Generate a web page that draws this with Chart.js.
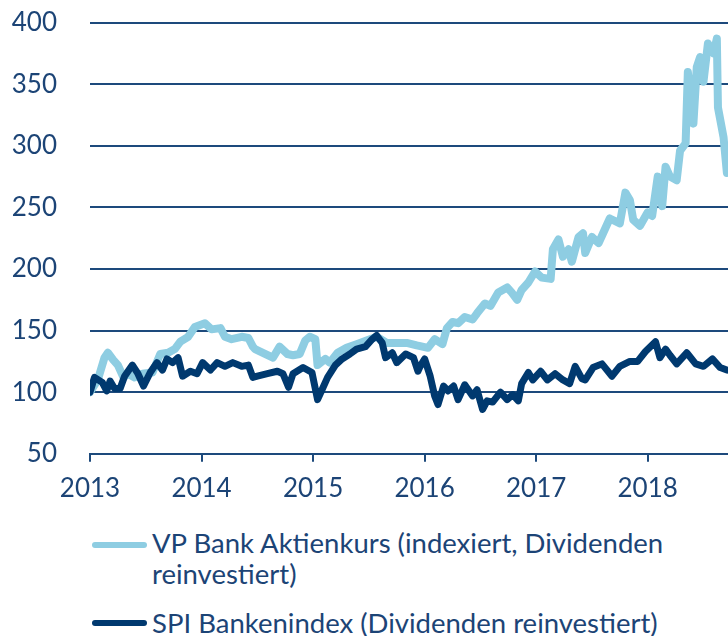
<!DOCTYPE html>
<html>
<head>
<meta charset="utf-8">
<script src="https://cdn.jsdelivr.net/npm/chart.js@4.4.1/dist/chart.umd.min.js"></script>
<style>
  body { margin: 0; background: #fff; font-family: Lato, "Open Sans", sans-serif; }
  #wrap { position: relative; width: 728px; height: 636px; overflow: hidden; }
  #chart { position: absolute; left: 0; top: -26px; }
  .legend-item { position: absolute; left: 152px; width: 570px; font-size: 27.5px; line-height: 31px; color: #1c4476; }
  .swatch { position: absolute; left: 92px; width: 55px; height: 6px; border-radius: 3px; }
</style>
</head>
<body>
<div id="wrap">
  <canvas id="chart" width="728" height="543"></canvas>
  <div class="swatch" style="top:542px; background:#8ecde2;"></div>
  <div class="legend-item" style="top:527px;">VP Bank Aktienkurs (indexiert, Dividenden reinvestiert)</div>
  <div class="swatch" style="top:620px; background:#00396f;"></div>
  <div class="legend-item" style="top:607px;">SPI Bankenindex (Dividenden reinvestiert)</div>
</div>
<script>
// VP Bank share price, indexed (decimal year / value)
const vpTime = [
  2013.00, 2013.07, 2013.13, 2013.16, 2013.21, 2013.25, 2013.30, 2013.34, 2013.40, 2013.47,
  2013.56, 2013.63, 2013.70, 2013.76, 2013.81, 2013.88, 2013.94, 2014.03, 2014.09, 2014.17,
  2014.21, 2014.27, 2014.36, 2014.42, 2014.46, 2014.48, 2014.55, 2014.64, 2014.70, 2014.77,
  2014.82, 2014.88, 2014.93, 2014.97, 2015.02, 2015.04, 2015.11, 2015.15, 2015.22, 2015.30,
  2015.39, 2015.48, 2015.57, 2015.66, 2015.75, 2015.84, 2015.93, 2015.98, 2016.03, 2016.09,
  2016.16, 2016.20, 2016.25, 2016.30, 2016.36, 2016.43, 2016.47, 2016.54, 2016.59, 2016.66,
  2016.74, 2016.78, 2016.83, 2016.87, 2016.93, 2016.99, 2017.05, 2017.13, 2017.15, 2017.20,
  2017.24, 2017.29, 2017.32, 2017.38, 2017.42, 2017.44, 2017.50, 2017.56, 2017.60, 2017.66,
  2017.75, 2017.80, 2017.84, 2017.87, 2017.93, 2018.00, 2018.04, 2018.09, 2018.13, 2018.16,
  2018.20, 2018.26, 2018.29, 2018.34, 2018.36, 2018.41, 2018.44, 2018.47, 2018.50, 2018.54,
  2018.59, 2018.62, 2018.63, 2018.68, 2018.71
];
const vpValues = [
  100, 110, 128, 132, 126, 122, 112, 115, 112, 115,
  116, 131, 132, 135, 141, 145, 153, 156, 151, 152,
  145, 143, 145, 144, 137, 135, 132, 128, 137, 131,
  130, 131, 142, 145, 143, 122, 127, 124, 132, 136,
  139, 142, 145, 140, 140, 140, 138, 137, 136, 143,
  139, 152, 157, 156, 161, 159, 164, 172, 170, 181,
  185, 181, 175, 183, 189, 198, 193, 192, 216, 224,
  210, 216, 206, 226, 229, 213, 226, 221, 229, 241,
  237, 262, 256, 240, 235, 246, 243, 275, 251, 283,
  275, 272, 296, 302, 360, 318, 364, 372, 352, 383,
  375, 387, 331, 307, 278
];

// SPI Bankenindex (decimal year / value)
const spiTime = [
  2013.00, 2013.04, 2013.11, 2013.15, 2013.18, 2013.22, 2013.27, 2013.31, 2013.38, 2013.43,
  2013.48, 2013.54, 2013.60, 2013.65, 2013.69, 2013.74, 2013.79, 2013.83, 2013.90, 2013.96,
  2014.01, 2014.08, 2014.14, 2014.21, 2014.28, 2014.36, 2014.42, 2014.46, 2014.50, 2014.59,
  2014.68, 2014.73, 2014.78, 2014.82, 2014.91, 2014.99, 2015.04, 2015.08, 2015.13, 2015.20,
  2015.26, 2015.33, 2015.39, 2015.47, 2015.53, 2015.57, 2015.62, 2015.65, 2015.71, 2015.75,
  2015.83, 2015.90, 2015.94, 2015.96, 2016.00, 2016.05, 2016.09, 2016.12, 2016.17, 2016.21,
  2016.26, 2016.30, 2016.36, 2016.43, 2016.47, 2016.52, 2016.56, 2016.61, 2016.68, 2016.74,
  2016.79, 2016.84, 2016.87, 2016.93, 2016.97, 2017.04, 2017.10, 2017.17, 2017.24, 2017.30,
  2017.35, 2017.41, 2017.44, 2017.51, 2017.59, 2017.68, 2017.75, 2017.84, 2017.91, 2017.98,
  2018.07, 2018.11, 2018.16, 2018.20, 2018.26, 2018.35, 2018.43, 2018.50, 2018.58, 2018.65,
  2018.71
];
const spiValues = [
  100, 112, 108, 101, 109, 103, 103, 113, 122, 115,
  105, 116, 124, 118, 127, 124, 128, 113, 117, 115,
  124, 118, 124, 121, 124, 121, 122, 112, 113, 115,
  117, 115, 104, 115, 120, 116, 94, 102, 112, 122,
  127, 131, 135, 137, 143, 146, 140, 128, 132, 124,
  131, 128, 117, 121, 127, 113, 97, 90, 105, 101,
  105, 94, 106, 97, 102, 86, 93, 92, 100, 94,
  98, 93, 107, 116, 110, 117, 110, 115, 110, 107,
  121, 111, 110, 120, 123, 113, 121, 125, 125, 133,
  141, 128, 135, 130, 123, 132, 123, 121, 127, 120,
  118
];

const yearTicks = [2013, 2014, 2015, 2016, 2017, 2018];

const navy = '#1c4476';
const gridColor = '#1d4a7c';

function toPoints(times, values) {
    return times.map((t, i) => ({ x: t, y: values[i] }));
}

new Chart(document.getElementById('chart').getContext('2d'), {
    type: 'line',
    data: {
        datasets: [
            {
                label: 'VP Bank Aktienkurs (indexiert, Dividenden reinvestiert)',
                data: toPoints(vpTime, vpValues),
                borderColor: '#8ecde2',
                borderWidth: 8,
                order: 1
            },
            {
                label: 'SPI Bankenindex (Dividenden reinvestiert)',
                data: toPoints(spiTime, spiValues),
                borderColor: '#00396f',
                borderWidth: 7,
                order: 0
            }
        ]
    },
    options: {
        responsive: false,
        animation: false,
        layout: { padding: { top: 0, right: 0, bottom: 2, left: 0 } },
        elements: {
            point: { radius: 0 },
            line: { tension: 0, borderJoinStyle: 'round', borderCapStyle: 'round' }
        },
        plugins: { legend: { display: false }, tooltip: { enabled: false } },
        scales: {
            x: {
                type: 'linear',
                min: 2013,
                max: 2018.72,
                afterBuildTicks: (scale) => { scale.ticks = yearTicks.map(v => ({ value: v })); },
                ticks: {
                    color: navy,
                    font: { family: 'Lato', size: 26 },
                    padding: 11,
                    maxRotation: 0,
                    autoSkip: false,
                    callback: (v) => String(v)
                },
                grid: { drawOnChartArea: false, drawTicks: true, tickLength: 8, color: gridColor, lineWidth: 2 },
                border: { display: true, color: gridColor, width: 2 }
            },
            y: {
                min: 50,
                max: 400,
                afterFit: (scale) => { scale.width = 90; },
                ticks: {
                    stepSize: 50,
                    color: navy,
                    font: { family: 'Lato', size: 26 },
                    padding: 33
                },
                grid: { color: gridColor, lineWidth: 2, drawTicks: false },
                border: { display: false }
            }
        }
    }
});
</script>
</body>
</html>
